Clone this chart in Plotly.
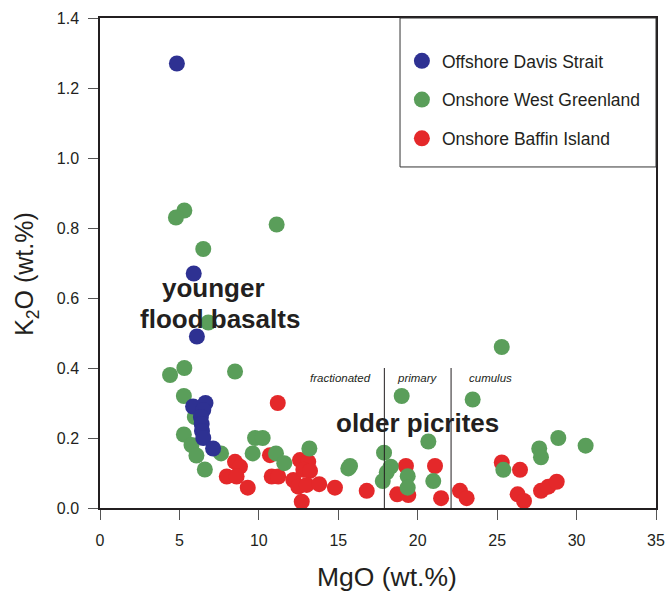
import plotly.graph_objects as go

# ---- data (MgO wt.%, K2O wt.%) ----
davis_mgo = [4.84, 5.90, 6.10, 5.86, 6.64, 6.50, 6.35, 6.40, 6.42, 6.50, 7.12]
davis_k2o = [1.27, 0.67, 0.49, 0.29, 0.30, 0.28, 0.26, 0.24, 0.22, 0.20, 0.17]

green_mgo = [5.31, 4.78, 11.12, 6.50, 6.82, 4.41, 5.31, 8.50, 5.28, 5.28, 5.76, 6.07,
             6.60, 7.62, 5.97, 9.76, 10.24, 9.61, 11.08, 11.60, 13.18, 15.63, 15.74,
             18.99, 23.46, 25.29, 20.67, 17.88, 18.30, 18.05, 17.80, 19.37, 19.37,
             20.98, 28.85, 30.57, 27.65, 27.76, 25.39]
green_k2o = [0.85, 0.83, 0.81, 0.74, 0.53, 0.38, 0.40, 0.39, 0.32, 0.21, 0.18, 0.15,
             0.11, 0.156, 0.26, 0.20, 0.20, 0.156, 0.156, 0.128, 0.17, 0.113, 0.12,
             0.32, 0.31, 0.46, 0.19, 0.158, 0.118, 0.102, 0.077, 0.091, 0.058,
             0.077, 0.20, 0.178, 0.17, 0.145, 0.109]

red_mgo = [11.19, 8.50, 8.81, 7.98, 8.60, 9.30, 10.70, 10.81, 11.22, 12.17, 12.59,
           13.11, 12.80, 13.22, 12.48, 13.01, 12.70, 13.80, 14.79, 16.79, 19.26,
           21.09, 18.71, 19.41, 21.47, 22.66, 23.08, 25.29, 26.44, 26.29, 26.69,
           27.76, 28.22, 28.75]
red_k2o = [0.30, 0.132, 0.118, 0.09, 0.09, 0.058, 0.151, 0.09, 0.09, 0.08, 0.137,
           0.132, 0.109, 0.106, 0.061, 0.066, 0.018, 0.068, 0.058, 0.049, 0.12,
           0.12, 0.039, 0.037, 0.028, 0.049, 0.028, 0.13, 0.109, 0.039, 0.02,
           0.049, 0.061, 0.075]

series_names = ["Offshore Davis Strait", "Onshore West Greenland", "Onshore Baffin Island"]
series_colors = ["#2E3192", "#5A9E5A", "#E4282A"]

x_ticks = [0, 5, 10, 15, 20, 25, 30, 35]
y_ticks = [0.0, 0.2, 0.4, 0.6, 0.8, 1.0, 1.2, 1.4]

# MgO boundaries between fractionated / primary / cumulus picrites
boundaries_mgo = [17.9, 22.1]
boundary_top = 0.40
region_labels = ["fractionated", "primary", "cumulus"]
region_label_x = [15.15, 20.0, 24.6]
region_label_y = 0.372

TXT = "#231F20"
FONT = "Liberation Sans, Arial, sans-serif"

fig = go.Figure()
# draw order: red, green, blue (blue on top); legend order via legendrank
for mg, k, name, col, rank in [
    (red_mgo, red_k2o, series_names[2], series_colors[2], 3),
    (green_mgo, green_k2o, series_names[1], series_colors[1], 2),
    (davis_mgo, davis_k2o, series_names[0], series_colors[0], 1),
]:
    fig.add_trace(go.Scatter(
        x=mg, y=k, mode="markers", name=name, legendgroup=name, legendrank=rank,
        marker=dict(size=16, color=col, line=dict(width=0)),
        cliponaxis=False,
    ))

for b in boundaries_mgo:
    fig.add_shape(type="line", xref="x", yref="y", x0=b, x1=b, y0=0, y1=boundary_top,
                  line=dict(color="#231F20", width=1))

for lab, lx in zip(region_labels, region_label_x):
    fig.add_annotation(x=lx, y=region_label_y, xref="x", yref="y", text=f"<i>{lab}</i>",
                       showarrow=False, xanchor="center", yanchor="middle",
                       font=dict(size=11.5, color=TXT, family=FONT))

for txt, ax, ay in [("younger", 7.12, 0.629), ("flood basalts", 7.55, 0.54),
                    ("older picrites", 20.0, 0.243)]:
    fig.add_annotation(x=ax, y=ay, xref="x", yref="y", text=f"<b>{txt}</b>",
                       showarrow=False, xanchor="center", yanchor="middle",
                       font=dict(size=26, color=TXT, family=FONT))

# axis titles
fig.add_annotation(x=0.517, y=-0.141, xref="paper", yref="paper", text="MgO (wt.%)",
                   showarrow=False, xanchor="center", yanchor="middle",
                   font=dict(size=26.5, color=TXT, family=FONT))
fig.add_annotation(x=-0.133, y=0.478, xref="paper", yref="paper",
                   text="K<sub>2</sub>O (wt.%)", textangle=-90,
                   showarrow=False, xanchor="center", yanchor="middle",
                   font=dict(size=25, color=TXT, family=FONT))

# legend box
fig.add_shape(type="rect", xref="paper", yref="paper", x0=0.5396, x1=1.0, y0=0.696, y1=1.0,
              line=dict(color="#333333", width=1), fillcolor="rgba(0,0,0,0)")

axis_common = dict(
    showline=True, linecolor="#231F20", linewidth=1.5, mirror=True,
    ticks="outside", ticklen=10, tickcolor="#555555", tickwidth=1,
    showgrid=False, zeroline=False,
    tickfont=dict(size=16, color=TXT, family=FONT),
)

fig.update_layout(
    width=667, height=591,
    margin=dict(l=100, r=11, t=18, b=83, autoexpand=False),
    paper_bgcolor="white", plot_bgcolor="white",
    font=dict(family=FONT, color=TXT),
    xaxis=dict(range=[0, 35], tickvals=x_ticks, ticktext=[str(v) for v in x_ticks],
               ticklabelstandoff=7, **axis_common),
    yaxis=dict(range=[0, 1.4], tickvals=y_ticks, ticktext=[f"{v:.1f}" for v in y_ticks],
               ticklabelstandoff=6, **axis_common),
    legend=dict(x=0.543, xanchor="left", y=0.949, yanchor="top",
                traceorder="grouped", tracegroupgap=13,
                font=dict(size=17.5, color=TXT, family=FONT),
                bgcolor="rgba(0,0,0,0)", borderwidth=0),
    showlegend=True,
)

fig.write_html("out.html")
